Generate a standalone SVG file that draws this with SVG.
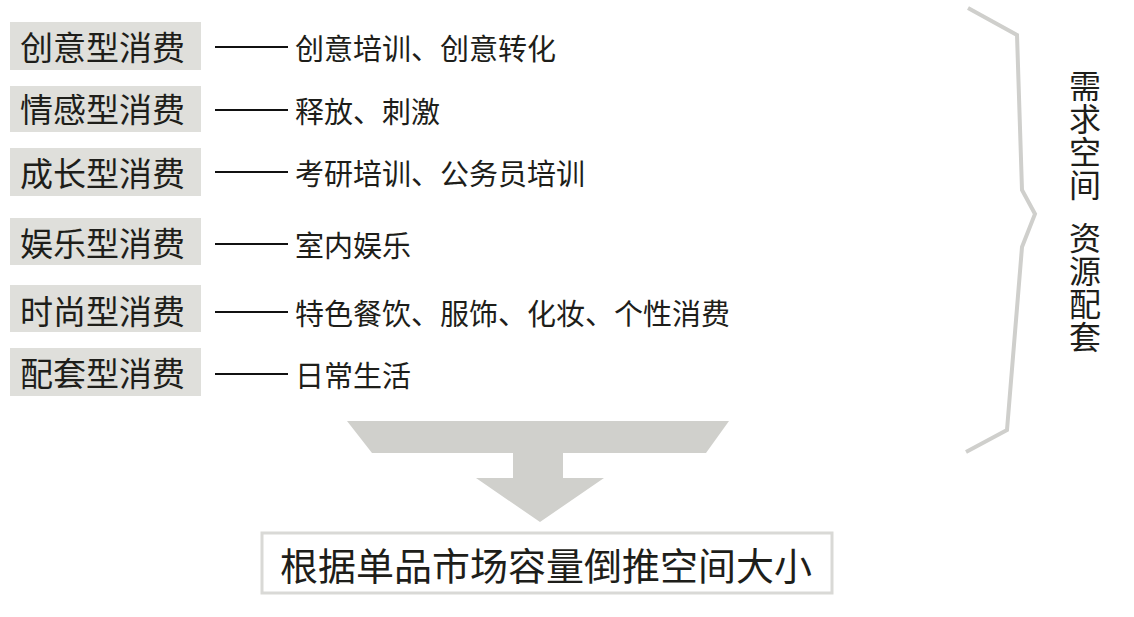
<svg xmlns="http://www.w3.org/2000/svg" width="1134" height="617" viewBox="0 0 1134 617">
<style>
.box{fill:#dfdfdb}
.bt{font-family:"Noto Sans CJK SC","Noto Sans CJK JP",sans-serif;font-size:33px;fill:#1e1e1a;dominant-baseline:central}
.dt{font-family:"Noto Sans CJK SC","Noto Sans CJK JP",sans-serif;font-size:29px;fill:#1e1e1a;dominant-baseline:central}
.ln{stroke:#111;stroke-width:2;fill:none}
.vt{font-family:"Noto Sans CJK SC","Noto Sans CJK JP",sans-serif;font-size:32px;fill:#1e1e1a;writing-mode:vertical-rl;letter-spacing:1px}
</style>
<rect width="1134" height="617" fill="#ffffff"/>
<g id="n1"><rect class="box" x="10" y="22" width="191" height="48"/><text class="bt" x="20" y="46">创意型消费</text><text class="dt" x="295" y="47">创意培训、创意转化</text></g>
<g id="n2"><rect class="box" x="10" y="86" width="191" height="46"/><text class="bt" x="20" y="108">情感型消费</text><text class="dt" x="295" y="110">释放、刺激</text></g>
<g id="n3"><rect class="box" x="10" y="148" width="191" height="48"/><text class="bt" x="20" y="172">成长型消费</text><text class="dt" x="295" y="172">考研培训、公务员培训</text></g>
<g id="n4"><rect class="box" x="10" y="218" width="191" height="47"/><text class="bt" x="20" y="242">娱乐型消费</text><text class="dt" x="295" y="244">室内娱乐</text></g>
<g id="n5"><rect class="box" x="10" y="285" width="191" height="47"/><text class="bt" x="20" y="310">时尚型消费</text><text class="dt" x="295" y="312">特色餐饮、服饰、化妆、个性消费</text></g>
<g id="n6"><rect class="box" x="10" y="348" width="191" height="48"/><text class="bt" x="20" y="372">配套型消费</text><text class="dt" x="295" y="374">日常生活</text></g>
<g id="connectors">
<line class="ln" x1="215" y1="47" x2="288" y2="47"/>
<line class="ln" x1="215" y1="110" x2="288" y2="110"/>
<line class="ln" x1="215" y1="172" x2="288" y2="172"/>
<line class="ln" x1="215" y1="244" x2="288" y2="244"/>
<line class="ln" x1="215" y1="312" x2="288" y2="312"/>
<line class="ln" x1="215" y1="374" x2="288" y2="374"/>
<polygon fill="#d0d0cc" points="347,421 729,421 706,453 563,453 563,478 604,478 540,522 476,478 513,478 513,453 372,453"/>
</g>
<g id="brace"><polyline points="968,8 1017,35 1022,190 1035,214 1022,247 1007,430 966,452" fill="none" stroke="#cfcfcc" stroke-width="4" stroke-linejoin="miter"/></g>
<g id="side"><text class="vt" x="1085" y="70">需求空间</text><text class="vt" x="1085" y="222">资源配套</text></g>
<g id="result"><rect x="262" y="533" width="570" height="60" fill="#ffffff" stroke="#d9d9d6" stroke-width="3"/><text class="bt" x="546" y="563" text-anchor="middle" style="font-size:38px">根据单品市场容量倒推空间大小</text></g>
</svg>
